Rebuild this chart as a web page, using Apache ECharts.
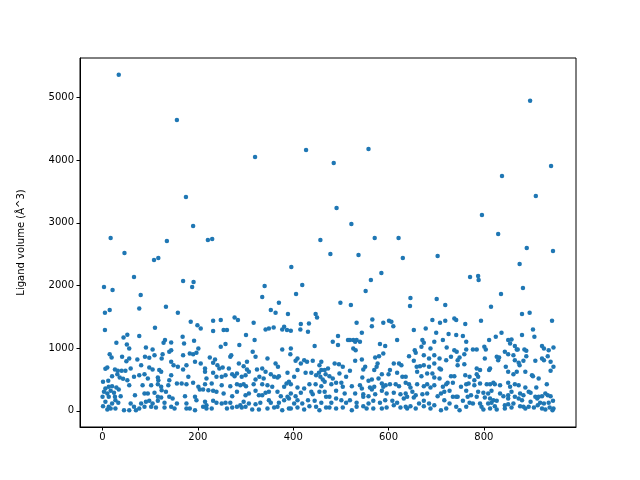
<!DOCTYPE html>
<html>
<head>
<meta charset="utf-8">
<script src="https://cdn.jsdelivr.net/npm/echarts@6/dist/echarts.min.js"></script>
<style>html,body{margin:0;padding:0;background:#fff}#chart{width:640px;height:480px}</style>
</head>
<body>
<div id="chart"></div>
<script>
// [structure index, ligand volume (Å^3)]
const highVolumes = [[34,5363],[156,4643],[320,4052],[427,4164],[558,4180],[485,3957],[897,4947],[941,3909],[838,3749],[909,3429],[175,3413],[491,3238],[796,3126],[522,2982],[190,2950],[830,2822],[17,2758],[571,2758],[621,2758],[221,2726],[230,2742],[135,2710],[457,2726],[890,2598],[945,2551],[46,2519],[478,2503],[537,2487],[703,2471],[630,2439],[108,2407],[117,2439],[875,2343],[396,2296],[585,2200],[66,2136],[771,2136],[788,2152],[789,2088],[563,2088],[169,2072],[191,2056],[419,2008],[340,1992],[3,1976],[188,1976],[882,1960],[21,1928],[552,1912],[80,1848],[406,1864],[836,1864],[335,1816],[646,1800],[701,1784]];
const volumes0 = [[5,1565],[15,1608],[5,1289],[29,1086],[44,1171],[52,1214],[51,1060],[56,996],[15,905],[19,852],[41,863],[56,836],[50,793],[59,676],[73,820],[10,692],[6,671],[26,660],[32,639],[40,639],[48,639],[31,586],[20,554],[66,543],[36,532],[43,511],[1,463],[12,479],[52,490],[56,410],[13,383],[20,394],[6,357],[29,373],[34,341],[3,303],[10,277],[17,319],[24,287],[0,224],[13,224],[26,224],[38,234],[68,250],[6,144],[20,117],[27,170],[33,128],[1,75],[13,64],[17,37],[59,117],[66,64],[10,21],[27,37],[56,11],[70,10],[45,10]];
const volumes1 = [[77,1635],[133,1661],[158,1565],[110,1326],[77,1193],[131,1129],[128,1086],[144,1091],[91,1012],[105,980],[144,969],[140,942],[109,889],[98,847],[89,863],[126,905],[124,836],[81,729],[98,692],[105,660],[119,650],[123,623],[144,783],[149,729],[158,703],[77,570],[88,586],[95,516],[116,532],[117,490],[144,570],[84,410],[102,410],[116,426],[123,383],[140,490],[138,410],[156,437],[88,277],[95,277],[109,287],[124,330],[133,303],[116,224],[123,213],[81,117],[91,144],[98,160],[105,117],[116,160],[130,128],[140,224],[147,197],[156,117],[77,37],[88,64],[102,64],[112,53],[130,53],[144,64],[151,37]];
const volumes2 = [[185,1422],[199,1368],[206,1315],[232,1438],[248,1448],[232,1273],[168,1182],[171,1076],[192,1118],[248,1022],[201,996],[169,889],[183,916],[190,905],[197,926],[176,729],[194,783],[206,756],[215,676],[225,852],[236,820],[232,767],[241,729],[245,676],[169,660],[180,543],[215,623],[218,516],[232,607],[239,543],[250,543],[166,437],[176,426],[190,447],[201,383],[215,426],[229,437],[232,319],[239,303],[250,410],[173,234],[194,224],[204,341],[211,341],[222,330],[176,117],[197,170],[215,144],[218,90],[232,160],[239,128],[250,117],[176,37],[183,37],[194,11],[211,64],[218,37],[229,37]];
const volumes3 = [[277,1491],[284,1448],[317,1406],[254,1289],[261,1289],[301,1209],[319,1129],[258,1065],[287,1049],[315,942],[321,863],[268,863],[270,889],[303,783],[252,692],[265,676],[272,586],[282,596],[286,756],[296,713],[303,660],[307,623],[324,660],[335,676],[258,570],[277,554],[292,543],[300,570],[321,500],[329,543],[338,516],[268,394],[282,426],[289,410],[296,426],[301,394],[317,426],[335,426],[254,277],[272,234],[282,303],[300,250],[307,277],[321,319],[328,250],[335,250],[258,128],[268,128],[282,64],[289,90],[296,144],[307,117],[321,106],[331,128],[261,37],[272,53],[292,53],[300,64],[314,21],[328,21]];
const volumes4 = [[370,1725],[353,1608],[363,1565],[389,1544],[342,1299],[349,1315],[359,1331],[377,1299],[381,1342],[387,1289],[395,1278],[416,1384],[415,1299],[346,836],[377,980],[395,996],[394,905],[409,836],[405,799],[416,756],[423,809],[363,756],[368,703],[342,623],[353,586],[360,543],[367,532],[370,554],[388,607],[402,543],[409,650],[426,607],[346,410],[356,383],[381,383],[386,437],[391,463],[395,426],[409,373],[423,357],[342,287],[349,303],[367,303],[374,234],[388,224],[395,277],[405,234],[416,287],[349,170],[353,128],[370,128],[381,170],[391,197],[402,117],[409,170],[419,117],[346,37],[360,53],[367,64],[377,11],[391,37],[395,37],[409,53],[423,21]];
const volumes5 = [[499,1725],[447,1544],[450,1491],[433,1395],[431,1262],[445,1033],[483,1102],[494,1193],[494,1049],[515,1129],[429,783],[441,799],[459,783],[455,729],[459,650],[466,650],[468,586],[487,756],[496,745],[504,703],[473,676],[438,607],[448,570],[454,607],[457,543],[462,500],[476,554],[483,516],[497,596],[511,543],[434,426],[447,426],[459,394],[466,463],[480,426],[490,447],[501,447],[504,383],[438,303],[441,266],[455,303],[466,303],[476,224],[490,319],[508,277],[431,170],[445,160],[459,128],[469,224],[480,128],[490,197],[501,170],[511,128],[434,75],[448,64],[455,11],[469,53],[476,53],[490,37],[504,53]];
const volumes6 = [[521,1688],[533,1406],[566,1459],[565,1352],[589,1406],[601,1438],[544,1246],[519,1129],[526,1129],[530,1102],[533,1129],[540,1102],[526,996],[531,969],[582,1065],[593,1033],[530,799],[544,820],[572,852],[580,873],[589,916],[577,756],[575,703],[519,639],[551,703],[547,660],[570,650],[586,586],[603,650],[545,532],[558,479],[565,500],[579,516],[600,586],[603,426],[523,394],[540,410],[544,357],[561,373],[565,341],[570,383],[586,437],[589,383],[594,410],[530,277],[547,266],[558,234],[572,266],[586,319],[596,277],[519,170],[533,128],[547,224],[558,117],[568,160],[582,128],[593,170],[523,11],[533,64],[547,75],[554,37],[568,37],[586,37],[596,53]];
const volumes7 = [[645,1672],[692,1448],[653,1289],[678,1315],[610,1352],[606,1422],[618,1129],[671,1129],[674,1086],[669,1022],[688,996],[655,969],[657,926],[643,873],[674,889],[685,836],[611,756],[622,756],[627,729],[653,799],[659,703],[666,713],[674,729],[685,703],[618,607],[629,543],[636,543],[660,623],[669,554],[681,596],[692,596],[615,426],[622,394],[636,447],[643,426],[646,373],[660,426],[674,394],[681,426],[688,373],[611,287],[625,266],[636,277],[650,303],[657,250],[671,266],[681,277],[608,160],[618,128],[632,197],[639,224],[653,213],[664,117],[674,160],[685,117],[611,90],[625,53],[636,64],[639,37],[646,75],[657,37],[674,75],[688,37]];
const volumes8 = [[719,1688],[738,1475],[742,1448],[708,1406],[719,1438],[761,1384],[726,1225],[700,1246],[742,1209],[756,1193],[696,1102],[714,1129],[722,1012],[738,969],[743,942],[763,1102],[763,980],[777,980],[696,889],[707,836],[721,809],[731,863],[745,809],[749,852],[759,905],[759,745],[745,729],[696,756],[707,676],[710,660],[731,554],[738,554],[761,570],[770,543],[780,490],[696,532],[707,516],[721,426],[724,447],[735,447],[752,383],[763,426],[768,437],[780,410],[696,410],[714,383],[717,303],[728,319],[745,224],[763,319],[766,224],[773,250],[703,234],[710,277],[735,224],[742,224],[756,160],[770,128],[696,90],[717,170],[728,117],[742,64],[763,64],[777,117],[710,11],[721,37],[749,11]];
const volumes9 = [[815,1661],[794,1438],[837,1246],[825,1182],[811,1129],[851,1129],[858,1139],[855,1076],[865,1033],[785,980],[801,1022],[804,980],[844,942],[851,905],[862,889],[869,980],[802,836],[827,863],[832,852],[830,809],[865,809],[785,676],[792,650],[813,676],[811,650],[846,703],[851,623],[862,586],[869,623],[785,586],[788,543],[792,437],[806,426],[813,426],[820,447],[823,426],[834,410],[851,447],[855,383],[865,426],[788,303],[799,287],[809,277],[816,319],[834,277],[851,250],[858,303],[785,224],[802,213],[813,197],[820,170],[827,160],[841,234],[851,197],[865,224],[792,117],[795,64],[809,117],[816,128],[823,75],[844,90],[851,106],[862,117],[799,21],[813,37],[827,21],[844,37],[858,53]];
const volumes10 = [[880,1544],[896,1565],[943,1438],[903,1299],[880,1209],[906,1182],[922,1033],[926,996],[936,969],[946,1012],[871,980],[885,980],[889,958],[883,799],[889,873],[908,799],[922,836],[926,809],[934,873],[940,783],[873,767],[875,729],[946,703],[940,639],[887,623],[901,570],[903,554],[915,516],[873,410],[887,373],[910,373],[932,426],[876,277],[883,250],[894,303],[898,287],[908,224],[915,224],[922,234],[929,277],[934,250],[940,234],[945,160],[873,197],[880,170],[898,144],[912,197],[918,128],[926,117],[936,128],[876,75],[883,64],[887,37],[894,64],[905,53],[913,90],[922,37],[929,21],[938,53],[946,37],[944,11]];

const xTicks = [0, 200, 400, 600, 800];
const yTicks = [0, 1000, 2000, 3000, 4000, 5000];
const yTitle = 'Ligand volume (Å^3)';

const points = [].concat(highVolumes, volumes0, volumes1, volumes2, volumes3, volumes4,
  volumes5, volumes6, volumes7, volumes8, volumes9, volumes10);

const pad = e => 0.05 * (e.max - e.min);
const font = 'DejaVu Sans';
const plain = v => String(v);

const chart = echarts.init(document.getElementById('chart'), null, {renderer: 'canvas'});
chart.setOption({
  animation: false,
  backgroundColor: '#fff',
  grid: {left: 80, right: 64, top: 58, bottom: 53, show: true, borderColor: '#000', borderWidth: 1, backgroundColor: 'transparent'},
  xAxis: {
    type: 'value',
    min: e => e.min - pad(e),
    max: e => e.max + pad(e),
    axisLine: {show: true, onZero: false, lineStyle: {color: '#000', width: 1}},
    axisTick: {show: true, length: 3.5, lineStyle: {color: '#000'}, customValues: xTicks},
    axisLabel: {color: '#000', fontSize: 10, fontFamily: font, margin: 5, customValues: xTicks, formatter: plain},
    splitLine: {show: false}
  },
  yAxis: {
    type: 'value',
    min: e => e.min - pad(e),
    max: e => e.max + pad(e),
    name: yTitle,
    nameLocation: 'middle',
    nameRotate: 90,
    nameGap: 54,
    nameTextStyle: {color: '#000', fontSize: 10, fontFamily: font},
    axisLine: {show: true, onZero: false, lineStyle: {color: '#000', width: 1}},
    axisTick: {show: true, length: 3.5, lineStyle: {color: '#000'}, customValues: yTicks},
    axisLabel: {color: '#000', fontSize: 10, fontFamily: font, margin: 6, customValues: yTicks, formatter: plain},
    splitLine: {show: false}
  },
  series: [{
    type: 'scatter',
    data: points,
    symbol: 'circle',
    symbolSize: 4.5,
    itemStyle: {color: '#1f77b4', opacity: 1},
    large: false
  }]
});
</script>
</body>
</html>
